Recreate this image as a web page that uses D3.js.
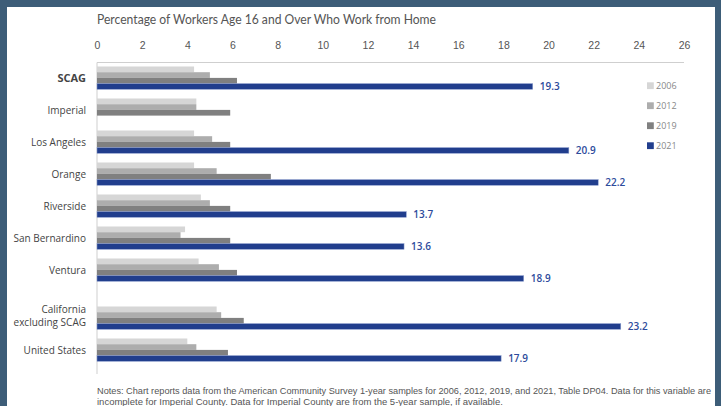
<!DOCTYPE html>
<html><head><meta charset="utf-8">
<script src="https://cdn.jsdelivr.net/npm/d3@7"></script>
<style>
html,body{margin:0;padding:0;background:#3d5d78;overflow:hidden;}
svg{display:block;}
</style></head>
<body>
<svg id="chart" width="721" height="406"></svg>
<script>
// ---- data ----
const categories = ["SCAG","Imperial","Los Angeles","Orange","Riverside","San Bernardino","Ventura","California excluding SCAG","United States"];
const years = ["2006","2012","2019","2021"];
const v2006 = [4.3, 4.4, 4.3, 4.3, 4.6, 3.9, 4.5, 5.3, 4.0];
const v2012 = [5.0, 4.4, 5.1, 5.3, 5.0, 3.7, 5.4, 5.5, 4.4];
const v2019 = [6.2, 5.9, 5.9, 7.7, 5.9, 5.9, 6.2, 6.5, 5.8];
const v2021 = [19.3, null, 20.9, 22.2, 13.7, 13.6, 18.9, 23.2, 17.9];
const xTicks = [0,2,4,6,8,10,12,14,16,18,20,22,24,26];
const comparisonStart = 7; // groups from this index on are set apart (California, US)
const title = "Percentage of Workers Age 16 and Over Who Work from Home";
const notes = [
  "Notes: Chart reports data from the American Community Survey 1-year samples for 2006, 2012, 2019, and 2021, Table DP04. Data for this variable are",
  "incomplete for Imperial County. Data for Imperial County are from the 5-year sample, if available."
];

const series = { "2006": v2006, "2012": v2012, "2019": v2019, "2021": v2021 };
const colors = { "2006": "#d6d6d6", "2012": "#adadad", "2019": "#808080", "2021": "#213e8d" };

const svg = d3.select("#chart");
// white panel
svg.append("rect").attr("x",7).attr("y",7).attr("width",708).attr("height",410).attr("fill","#ffffff");

const x = d3.scaleLinear().domain([0,26]).range([97,684]);
const slotOf = i => i + (i >= comparisonStart ? 0.5 : 0);
const yGroup = d3.scaleLinear().domain([0,1]).range([66.5, 98.5]);
const yInner = d3.scaleBand().domain(years).range([0,22.8]).padding(0);
const idx = d => categories.indexOf(d);

// title
svg.append("text").attr("x",97).attr("y",24).text(title)
  .attr("font-family","Lato, 'Open Sans', sans-serif").attr("font-size",12.5)
  .attr("fill","#555").attr("textLength",339).attr("lengthAdjust","spacingAndGlyphs");

// top axis tick labels
const axisTop = d3.axisTop(x).tickValues(xTicks).tickSize(0).tickPadding(0).tickFormat(d3.format("d"));
const gx = svg.append("g").attr("transform","translate(0,49)").call(axisTop);
gx.select(".domain").remove();
gx.selectAll("text").attr("font-family","'Liberation Sans Narrow','Arial Narrow',sans-serif")
  .attr("font-size",10.5).attr("fill","#555").attr("dy",0);

// frame lines
svg.append("line").attr("x1",97).attr("x2",684).attr("y1",62.5).attr("y2",62.5).attr("stroke","#cfcfcf").attr("stroke-width",1);
svg.append("line").attr("x1",97).attr("x2",97).attr("y1",62.5).attr("y2",374).attr("stroke","#cfcfcf").attr("stroke-width",1);

// bars
const groups = svg.append("g").selectAll("g").data(categories).join("g")
  .attr("transform",(d,i)=>`translate(0,${yGroup(slotOf(i))})`);

years.forEach(yr=>{
  groups.filter(d=>series[yr][idx(d)] != null).append("rect")
    .attr("x",x(0))
    .attr("y",yInner(yr))
    .attr("height",yInner.bandwidth())
    .attr("width",d=>x(series[yr][idx(d)]) - x(0))
    .attr("fill",colors[yr])
    .attr("stroke", yr==="2021" ? "#8ea0cf" : "none")
    .attr("stroke-width",0.5);
});

// 2021 value labels
groups.filter(d=>v2021[idx(d)]!=null).append("text")
  .attr("x",d=>x(v2021[idx(d)])+7)
  .attr("y",yInner("2021")+yInner.bandwidth()/2)
  .attr("dy","0.36em")
  .text(d=>d3.format(".1f")(v2021[idx(d)]))
  .attr("font-family","'Open Sans',sans-serif").attr("font-size",10).attr("font-weight",600)
  .attr("fill","#2d4b9c");

// category labels
groups.each(function(d,i){
  const g = d3.select(this);
  const cy = 11.4;
  const words = d === "California excluding SCAG" ? ["California","excluding SCAG"] : [d];
  const t = g.append("text").attr("text-anchor","end").attr("x",86)
    .attr("font-family","'Open Sans',sans-serif")
    .attr("font-size", d==="SCAG" ? 11 : 10)
    .attr("font-weight", d==="SCAG" ? 700 : 400)
    .attr("fill", "#444");
  const lh = 13.5;
  words.forEach((w,k)=>{
    t.append("tspan").attr("x",86)
      .attr("y", cy + (k - (words.length-1)/2)*lh - (words.length>1?2:0))
      .attr("dy","0.36em").text(w);
  });
});

// legend
const lg = svg.append("g").selectAll("g").data(years).join("g")
  .attr("transform",(d,i)=>`translate(647,${85.7 + i*20})`);
lg.append("rect").attr("x",0).attr("y",-3.4).attr("width",6.8).attr("height",6.8).attr("fill",d=>colors[d]);
lg.append("text").attr("x",9).attr("y",0).attr("dy","0.36em").text(d=>d)
  .attr("font-family","'Open Sans',sans-serif").attr("font-size",9).attr("fill","#888");

// notes
notes.forEach((n,k)=>{
  const t = svg.append("text").attr("x",97).attr("y",394 + k*11).text(n)
    .attr("font-family","'Liberation Sans Narrow','Arial Narrow',sans-serif")
    .attr("font-size",9.5).attr("fill","#555");
  if(k===0) t.attr("textLength",614).attr("lengthAdjust","spacingAndGlyphs");
});
</script>
</body></html>
